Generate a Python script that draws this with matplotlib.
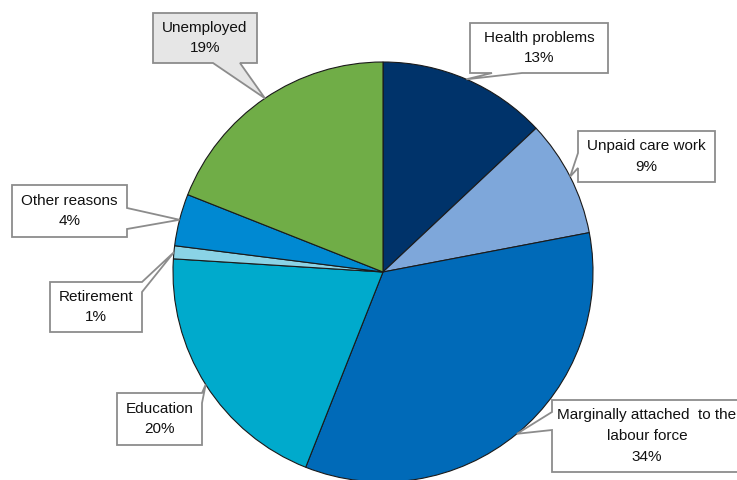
import numpy as np
import matplotlib.pyplot as plt
from matplotlib.patches import Polygon

plt.rcParams['font.family'] = ['Liberation Sans', 'DejaVu Sans']

# reasons for being outside the labour force, % of total
reasons = ['Health problems', 'Unpaid care work',
           'Marginally attached  to the\nlabour force', 'Education',
           'Retirement', 'Other reasons', 'Unemployed']
shares = [13, 9, 34, 20, 1, 4, 19]
colors = ['#00336a', '#7ea7da', '#006ab8', '#00aacc',
          '#8ad3e6', '#0089d2', '#70ad47']

# callout boxes: (x0, x1, y0, y1), pointer side, pointer base span
callouts = [
    ((470, 608, 407, 457), 'bottom', (492, 522)),
    ((578, 715, 298, 349), 'left', (312, 327)),
    ((552, 742, 8, 80), 'left', (50, 68)),
    ((117, 202, 35, 87), 'right', (77, 87)),
    ((50, 142, 148, 198), 'right', (188, 198)),
    ((12, 127, 243, 295), 'right', (251, 272)),
    ((153, 257, 417, 467), 'bottom', (213, 240)),
]
box_fill = ['white'] * 6 + ['#e6e6e6']


def callout_verts(box, side, span, tip):
    x0, x1, y0, y1 = box
    a, b = span
    sides = [('bottom', (x0, y0)), ('right', (x1, y0)),
             ('top', (x1, y1)), ('left', (x0, y1))]
    base = {'bottom': [(a, y0), tip, (b, y0)],
            'right': [(x1, a), tip, (x1, b)],
            'top': [(b, y1), tip, (a, y1)],
            'left': [(x0, b), tip, (x0, a)]}
    verts = []
    for name, corner in sides:
        verts.append(corner)
        if name == side:
            verts.extend(base[name])
    return verts


fig = plt.figure(figsize=(7.37, 4.8), dpi=100)
ax = fig.add_axes([0, 0, 1, 1])

wedges, _ = ax.pie(shares, colors=colors, startangle=90, counterclock=False,
                   center=(383, 208), radius=210,
                   wedgeprops=dict(edgecolor='#1a1a1a', linewidth=0.8))

for w, label, share, (box, side, span), fc in zip(wedges, reasons, shares,
                                                   callouts, box_fill):
    mid = np.deg2rad((w.theta1 + w.theta2) / 2)
    tip = (w.center[0] + w.r * np.cos(mid), w.center[1] + w.r * np.sin(mid))
    poly = Polygon(callout_verts(box, side, span, tip), closed=True,
                   facecolor=fc, edgecolor='#8c8c8c', linewidth=1.3, zorder=3)
    ax.add_patch(poly)
    x0, x1, y0, y1 = box
    ax.text((x0 + x1) / 2, (y0 + y1) / 2, f'{label}\n{share}%',
            ha='center', va='center', fontsize=11, linespacing=1.6,
            color='#111111', zorder=4)

ax.set_xlim(0, 737)
ax.set_ylim(0, 480)
ax.set_aspect('auto')
ax.axis('off')

fig.savefig('out.png', dpi=100)
